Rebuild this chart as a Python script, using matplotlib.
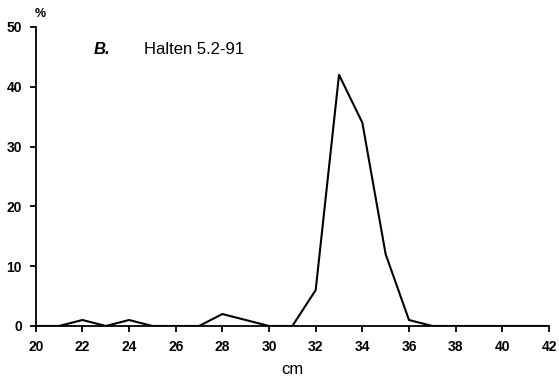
import matplotlib
matplotlib.use("Agg")
import matplotlib.pyplot as plt

length_cm = [20, 21, 22, 23, 24, 25, 26, 27, 28, 29, 30, 31, 32, 33, 34, 35, 36, 37, 38, 39, 40, 41, 42]
percent = [0, 0, 1, 0, 1, 0, 0, 0, 2, 1, 0, 0, 6, 42, 34, 12, 1, 0, 0, 0, 0, 0, 0]
x_ticks = [20, 22, 24, 26, 28, 30, 32, 34, 36, 38, 40, 42]
y_ticks = [0, 10, 20, 30, 40, 50]

plt.rcParams['font.family'] = ['Liberation Sans', 'DejaVu Sans']

fig = plt.figure(figsize=(5.59, 3.78), dpi=100)
ax = fig.add_axes([0.064, 0.1376, 0.918, 0.791])
ax.plot(length_cm, percent, color='black', linewidth=1.5)
ax.set_xlim(20, 42)
ax.set_ylim(0, 50)
ax.set_xticks(x_ticks)
ax.set_yticks(y_ticks)
ax.spines['top'].set_visible(False)
ax.spines['right'].set_visible(False)
ax.spines['left'].set_linewidth(1.3)
ax.spines['bottom'].set_linewidth(1.3)
ax.tick_params(direction='out', length=4, width=1.3, labelsize=10, pad=6)
for lab in ax.get_xticklabels() + ax.get_yticklabels():
    lab.set_fontweight('bold')
ax.set_xlabel('cm', fontsize=12, labelpad=6)
fig.text(0.072, 0.962, '%', fontsize=9, fontweight='bold', ha='center', va='center')
fig.text(0.168, 0.868, 'B.', fontsize=12, fontweight='bold', style='italic', ha='left', va='center')
fig.text(0.258, 0.868, 'Halten 5.2-91', fontsize=12, ha='left', va='center')
fig.savefig('out.png', dpi=100)
